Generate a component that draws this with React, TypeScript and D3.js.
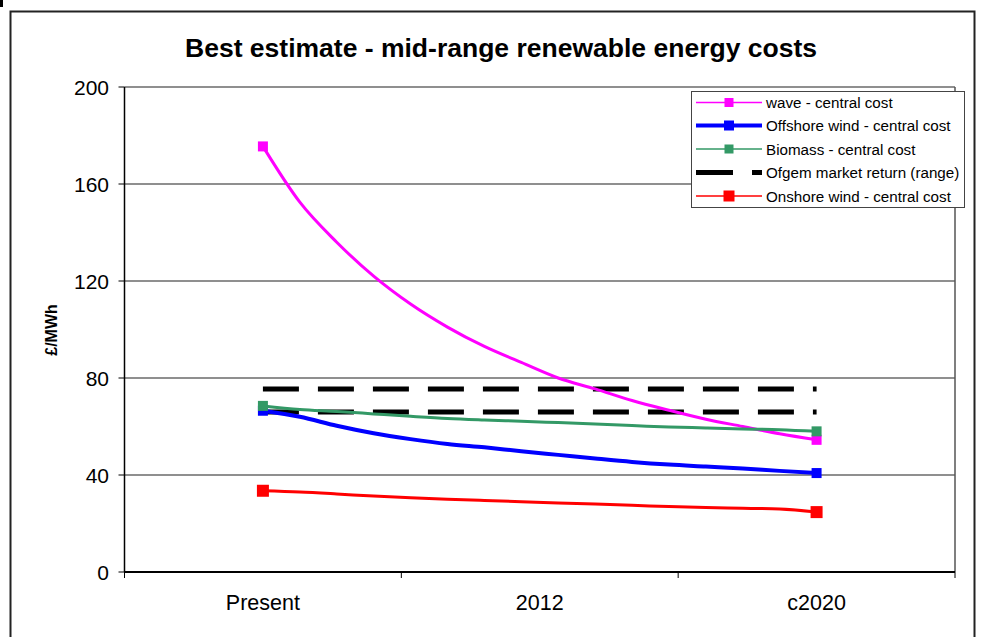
import React from "react";
import * as d3 from "d3";

const categories = ["Present", "2012", "c2020"];
const yTicks = [0, 40, 80, 120, 160, 200];
// 16 evenly spaced steps between "Present" and "c2020"
const wave = [175.5, 152.5, 136, 122, 110.5, 101, 93, 86.4, 80, 75.5, 70.7, 66.7, 63, 60, 57, 54.5];
const offshore = [66.5, 64, 60.3, 57.2, 54.8, 52.8, 51.4, 49.8, 48.3, 46.8, 45.4, 44.3, 43.5, 42.7, 41.7, 40.8];
const biomass = [68.5, 67, 66.2, 65.2, 64.2, 63.3, 62.7, 62.2, 61.6, 61, 60.4, 59.8, 59.4, 59, 58.7, 58];
const onshore = [33.5, 33, 32.2, 31.3, 30.6, 30, 29.5, 29, 28.5, 28, 27.5, 27, 26.6, 26.3, 26, 24.7];
const ofgemRange = [66, 75.5];

const seriesNames = [
  "wave - central cost",
  "Offshore wind - central cost",
  "Biomass - central cost",
  "Ofgem market return (range)",
  "Onshore wind - central cost",
];

const FONT = "'Liberation Sans', Arial, Helvetica, sans-serif";

export default function App() {
  const W = 983, H = 637;
  const left = 124.5, right = 955, top = 87, bottom = 572;
  const xBand = d3.scaleBand<string>().domain(categories).range([left, right]).padding(0);
  const cx = (c: string) => (xBand(c) as number) + xBand.bandwidth() / 2;
  const x = d3.scaleLinear().domain([0, wave.length - 1]).range([cx("Present"), cx("c2020")]);
  const y = d3.scaleLinear().domain([0, 200]).range([bottom, top]);
  const line = d3.line<number>().x((_, i) => x(i)).y((d) => y(d)).curve(d3.curveMonotoneX);

  const series = [
    { data: wave, color: "#FF00FF", width: 3, marker: 10 },
    { data: offshore, color: "#0000FF", width: 4, marker: 10 },
    { data: biomass, color: "#339966", width: 3, marker: 10 },
    { data: onshore, color: "#FF0000", width: 3, marker: 12 },
  ];

  const boundaries = [...categories.map((c) => xBand(c) as number), right];
  const last = wave.length - 1;

  const legendX = 691, legendY = 91, legendW = 273, legendH = 116;
  const legendRows = [102.5, 125.5, 149, 172.5, 196];
  const legendStyles = [
    { color: "#FF00FF", width: 1.5, marker: 9 },
    { color: "#0000FF", width: 4, marker: 10 },
    { color: "#339966", width: 1.5, marker: 9 },
    { color: "#000000", width: 5, marker: 0 },
    { color: "#FF0000", width: 1.5, marker: 11 },
  ];

  return (
    <svg width={W} height={H} style={{ position: "absolute", left: 0, top: 0, background: "#fff" }} fontFamily={FONT}>
      <rect x={0} y={0} width={W} height={H} fill="#fff" />
      <rect x={0} y={0} width={3} height={7} fill="#000" />
      {/* outer frame */}
      <rect x={10.5} y={11.5} width={964} height={H + 20} fill="none" stroke="#222" strokeWidth={2} />
      {/* title */}
      <text x={185} y={57} fontSize={25} fontWeight="bold" fill="#000" textLength={632} lengthAdjust="spacingAndGlyphs">
        Best estimate - mid-range renewable energy costs
      </text>
      {/* gridlines */}
      {yTicks.filter((t) => t > 0).map((t) => (
        <line key={t} x1={left} x2={right} y1={y(t)} y2={y(t)} stroke="#6a6a6a" strokeWidth={1.5} />
      ))}
      {/* plot right edge */}
      <line x1={right} x2={right} y1={top} y2={bottom} stroke="#555" strokeWidth={1.5} />
      {/* y axis */}
      <line x1={left} x2={left} y1={top} y2={bottom} stroke="#000" strokeWidth={1.5} />
      {yTicks.map((t) => (
        <g key={t}>
          <line x1={left - 6} x2={left} y1={y(t)} y2={y(t)} stroke="#000" strokeWidth={1} />
          <text x={109} y={y(t) + 8} textAnchor="end" fontSize={21} fill="#000">{t}</text>
        </g>
      ))}
      <text transform={`translate(57,330) rotate(-90)`} textAnchor="middle" fontSize={16} fontWeight="bold" fill="#000">£/MWh</text>
      {/* x axis */}
      <line x1={left} x2={right} y1={bottom} y2={bottom} stroke="#000" strokeWidth={2} />
      {boundaries.map((b, i) => (
        <line key={i} x1={b} x2={b} y1={bottom} y2={bottom + 6} stroke="#000" strokeWidth={1} />
      ))}
      {categories.map((c) => (
        <text key={c} x={cx(c)} y={610} textAnchor="middle" fontSize={21.5} fill="#000">{c}</text>
      ))}
      {/* Ofgem range */}
      {ofgemRange.map((v, i) => (
        <line key={i} x1={x(0)} x2={x(last)} y1={y(v)} y2={y(v)} stroke="#000" strokeWidth={5} strokeDasharray="36 19" />
      ))}
      {/* series */}
      {series.map((s, i) => (
        <g key={i}>
          <path d={line(s.data) || ""} fill="none" stroke={s.color} strokeWidth={s.width} strokeLinejoin="round" />
          {[0, last].map((k) => (
            <rect key={k} x={x(k) - s.marker / 2} y={y(s.data[k]) - s.marker / 2} width={s.marker} height={s.marker} fill={s.color} />
          ))}
        </g>
      ))}
      {/* legend */}
      <rect x={legendX + 0.5} y={legendY + 0.5} width={legendW} height={legendH} fill="#fff" stroke="#444" strokeWidth={1} />
      {seriesNames.map((n, i) => {
        const st = legendStyles[i];
        const ry = legendRows[i];
        return (
          <g key={n}>
            {i === 3 ? (
              <line x1={696} x2={762} y1={ry} y2={ry} stroke="#000" strokeWidth={5} strokeDasharray="37 19" />
            ) : (
              <line x1={696} x2={762} y1={ry} y2={ry} stroke={st.color} strokeWidth={st.width} />
            )}
            {st.marker > 0 && (
              <rect x={729 - st.marker / 2} y={ry - st.marker / 2} width={st.marker} height={st.marker} fill={st.color} />
            )}
            <text x={766} y={ry + 5.5} fontSize={15.2} fill="#000">{n}</text>
          </g>
        );
      })}
    </svg>
  );
}
